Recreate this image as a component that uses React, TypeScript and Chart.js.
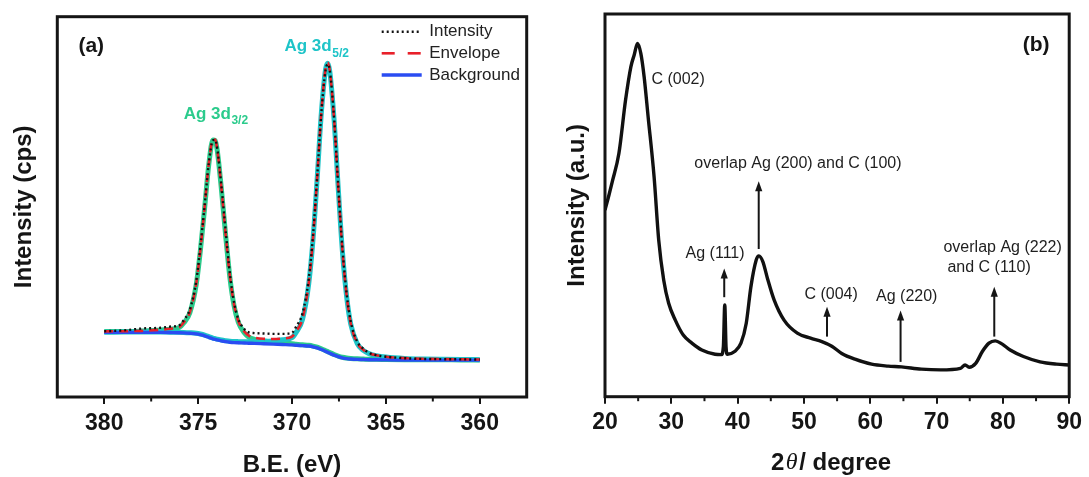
import React, { useEffect, useRef } from 'react';
import { Chart, registerables } from 'chart.js';

Chart.register(...registerables);

const FONT = '"Liberation Sans", Arial, Helvetica, sans-serif';
const SERIF = '"Liberation Serif", "Times New Roman", serif';
const INK = '#151515';
const RED = '#e8202a';
const BLUE = '#2a4cf2';
const GREEN = '#2bcb8c';
const CYAN = '#1ec4c8';

// ---------------- (a) XPS Ag 3d ----------------
const xpsBE = [380, 379, 378, 377, 376.5, 376, 375.77, 375.44, 375.10, 374.88,
  374.65, 374.43, 374.21, 374.09, 373.98, 373.76, 373.53, 373.31, 373.09, 372.86,
  372.53, 372.3, 372.0, 371.5, 371.0, 370.5, 370.0, 369.78, 369.44, 369.11,
  368.88, 368.66, 368.44, 368.21, 368.1, 367.99, 367.76, 367.54, 367.32, 367.09,
  366.87, 366.53, 366.2, 365.9, 365.5, 365.0, 364, 363, 362, 361,
  360];
const xpsIntensity = [17.3, 17.5, 18.0, 18.2, 18.5, 18.9, 20.2, 23.0, 30.5, 39.5,
  50.5, 61.5, 67.5, 67.6, 65.3, 55.5, 43.5, 32.5, 25.0, 20.5,
  17.8, 17.0, 16.8, 16.7, 16.6, 16.6, 16.9, 18.5, 22.0, 31.0,
  42.5, 57.8, 74.5, 86.0, 87.5, 86.0, 73.5, 55.8, 39.5, 27.2,
  19.8, 14.6, 12.7, 11.6, 11.0, 10.6, 10.2, 10.0, 9.95, 9.9,
  9.85];
const xpsEnvelope = [17.25, 17.3, 17.4, 17.7, 17.95, 18.4, 19.6, 22.3, 29.8, 38.7,
  50.1, 61.4, 67.8, 67.65, 65.0, 54.9, 42.5, 31.8, 24.4, 20.0,
  17.15, 16.15, 15.6, 15.3, 15.25, 15.4, 15.9, 17.25, 20.6, 29.9,
  41.7, 57.6, 74.7, 86.4, 87.9, 85.9, 73.2, 55.3, 38.8, 26.6,
  19.25, 14.2, 12.4, 11.5, 10.97, 10.6, 10.23, 10.06, 9.97, 9.91,
  9.87];
const xpsBackground = [17.0, 17.0, 17.0, 17.0, 16.95, 16.9, 16.85, 16.75, 16.6, 16.4,
  16.1, 15.7, 15.3, 15.15, 15.0, 14.75, 14.55, 14.4, 14.3, 14.25,
  14.2, 14.15, 14.1, 14.0, 13.9, 13.8, 13.7, 13.6, 13.5, 13.4,
  13.2, 12.9, 12.5, 12.0, 11.75, 11.5, 11.0, 10.6, 10.3, 10.1,
  10.0, 9.9, 9.85, 9.8, 9.8, 9.75, 9.7, 9.7, 9.7, 9.7,
  9.7];
const xpsAg3d32 = [17.2, 17.2, 17.35, 17.6, 17.85, 18.3, 19.45, 22.15, 29.6, 38.5,
  49.9, 61.2, 67.6, 67.45, 64.8, 54.65, 42.25, 31.5, 24.1, 19.65,
  16.8, 15.75, 15.15, 14.7, 14.4, 14.18, 14.0, 13.85, 13.72, 13.6,
  13.39, 13.09, 12.68, 12.18, 11.93, 11.68, 11.17, 10.77, 10.46, 10.26,
  10.15, 10.04, 9.98, 9.92, 9.91, 9.85, 9.79, 9.78, 9.77, 9.76,
  9.75];
const xpsAg3d52 = [17.05, 17.06, 17.07, 17.09, 17.05, 17.02, 16.98, 16.89, 16.76, 16.57,
  16.28, 15.89, 15.5, 15.35, 15.21, 14.97, 14.8, 14.67, 14.59, 14.56,
  14.55, 14.55, 14.59, 14.63, 14.76, 15.04, 15.6, 17.0, 20.4, 29.7,
  41.5, 57.4, 74.5, 86.2, 87.75, 85.7, 73.0, 55.1, 38.6, 26.4,
  19.1, 14.1, 12.25, 11.4, 10.86, 10.51, 10.14, 9.98, 9.9, 9.85,
  9.82];
const xpsTicks = [380, 375, 370, 365, 360];
const xpsMinorTicks = [377.5, 372.5, 367.5, 362.5];
const xpsLegendLabels = ['Intensity', 'Envelope', 'Background'];
const xpsPeakNames = ['Ag 3d', 'Ag 3d'];
const xpsPeakSubs = ['3/2', '5/2'];
const xpsPeakLabelBE = [375.77, 370.4];
const xpsPeakLabelY = [74.3, 92.1];
const xpsPanel = '(a)';
const xpsPanelBE = 380.69;
const xpsPanelY = 92.3;

// ---------------- (b) XRD ----------------
const xrdTwoTheta = [20.0, 20.6, 21.1, 22.1, 23.1, 23.9, 24.4, 24.9, 25.4, 25.9,
  26.5, 27.4, 28.1, 28.85, 29.6, 30.6, 31.8, 33.1, 34.6, 36.6,
  37.55, 37.85, 38.06, 38.25, 38.45, 39.55, 40.5, 41.3, 42.0, 42.8,
  43.2, 43.8, 44.5, 45.5, 47.0, 49.0, 51.0, 52.7, 54.2, 55.7,
  57.7, 60.2, 62.7, 64.7, 67.7, 70.6, 73.6, 74.3, 74.9, 75.9,
  76.9, 77.9, 78.85, 79.85, 81.1, 83.1, 85.6, 88.1, 90.0];
const xrdIntensity = [48.8, 52.7, 56.2, 63.6, 77.5, 86.2, 89.3, 92.3, 89.7, 83.6,
  73.2, 57.5, 40.9, 30.5, 24.4, 20.0, 16.1, 14.0, 12.2, 11.1,
  11.0, 13.1, 24.0, 13.1, 11.1, 11.8, 14.0, 19.2, 28.7, 35.7,
  36.8, 35.3, 30.9, 25.3, 20.0, 16.6, 15.3, 14.4, 13.2, 11.3,
  9.8, 8.5, 8.0, 7.8, 7.2, 7.0, 7.4, 8.3, 7.7, 8.7,
  11.8, 14.0, 14.6, 13.8, 12.2, 10.5, 9.1, 8.5, 8.3];
const xrdTicks = [20, 30, 40, 50, 60, 70, 80, 90];
const xrdMinorTicks = [25, 35, 45, 55, 65, 75, 85];
const xrdLabelText = ['C (002)', 'Ag (111)', 'overlap Ag (200) and C (100)', 'C (004)', 'Ag (220)', 'overlap Ag (222)', 'and C (110)'];
const xrdLabelX = [27.0, 36.6, 49.1, 54.1, 65.5, 71.04, 71.64];
const xrdLabelY = [82.8, 37.3, 61.0, 26.8, 26.1, 39.0, 33.8];
const xrdLabelAlign = ['left', 'center', 'center', 'center', 'center', 'left', 'left'];
const xrdArrowX = [37.98, 43.18, 53.48, 64.57, 78.7];
const xrdArrowFrom = [26.0, 38.6, 15.7, 9.1, 15.7];
const xrdArrowTo = [33.5, 56.3, 23.5, 22.5, 28.7];
const xrdPanel = '(b)';
const xrdPanelX = 85.0;
const xrdPanelY = 91.9;

const pts = (xs: number[], ys: number[]) => xs.map((x, i) => ({ x, y: ys[i] }));

function framePlugin(minor: number[]) {
  return {
    id: 'frame',
    afterDraw(chart: any) {
      const { ctx, chartArea: a, scales } = chart;
      ctx.save();
      ctx.strokeStyle = INK;
      ctx.lineWidth = 2;
      for (const v of minor) {
        const px = scales.x.getPixelForValue(v);
        ctx.beginPath();
        ctx.moveTo(px, a.bottom);
        ctx.lineTo(px, a.bottom + 4.5);
        ctx.stroke();
      }
      ctx.lineWidth = 3;
      ctx.strokeRect(a.left, a.top, a.right - a.left, a.bottom - a.top);
      ctx.restore();
    },
  };
}

const xpsDecor = {
  id: 'xpsDecor',
  afterDraw(chart: any) {
    const { ctx, chartArea: a, scales } = chart;
    const x = scales.x, y = scales.y;
    ctx.save();
    ctx.textBaseline = 'middle';
    ctx.fillStyle = INK;
    ctx.font = `bold 21px ${FONT}`;
    ctx.textAlign = 'center';
    ctx.fillText(xpsPanel, x.getPixelForValue(xpsPanelBE), y.getPixelForValue(xpsPanelY));

    const colors = [GREEN, CYAN];
    ctx.textAlign = 'left';
    for (let i = 0; i < xpsPeakNames.length; i++) {
      const px = x.getPixelForValue(xpsPeakLabelBE[i]);
      const py = y.getPixelForValue(xpsPeakLabelY[i]);
      ctx.fillStyle = colors[i];
      ctx.font = `bold 17px ${FONT}`;
      ctx.fillText(xpsPeakNames[i], px, py);
      const w = ctx.measureText(xpsPeakNames[i]).width;
      ctx.font = `bold 12px ${FONT}`;
      ctx.fillText(xpsPeakSubs[i], px + w + 0.5, py + 6.5);
    }

    // legend
    const x0 = a.right - 145, x1 = a.right - 105, tx = a.right - 97.5;
    const rows = [a.top + 15, a.top + 36.6, a.top + 58.3];
    ctx.lineCap = 'butt';
    ctx.strokeStyle = '#111';
    ctx.lineWidth = 2.4;
    ctx.setLineDash([2, 3]);
    ctx.beginPath(); ctx.moveTo(x0, rows[0]); ctx.lineTo(x1, rows[0]); ctx.stroke();
    ctx.strokeStyle = RED;
    ctx.lineWidth = 2.6;
    ctx.setLineDash([13, 13]);
    ctx.beginPath(); ctx.moveTo(x0, rows[1]); ctx.lineTo(x1, rows[1]); ctx.stroke();
    ctx.setLineDash([]);
    ctx.strokeStyle = BLUE;
    ctx.lineWidth = 3.4;
    ctx.beginPath(); ctx.moveTo(x0, rows[2]); ctx.lineTo(x1, rows[2]); ctx.stroke();

    ctx.fillStyle = '#222';
    ctx.font = `17px ${FONT}`;
    for (let i = 0; i < xpsLegendLabels.length; i++) ctx.fillText(xpsLegendLabels[i], tx, rows[i]);
    ctx.restore();
  },
};

const xrdDecor = {
  id: 'xrdDecor',
  afterDraw(chart: any) {
    const { ctx, chartArea: a, scales } = chart;
    const x = scales.x, y = scales.y;
    ctx.save();
    ctx.textBaseline = 'middle';
    ctx.fillStyle = INK;
    ctx.font = `bold 21px ${FONT}`;
    ctx.textAlign = 'center';
    ctx.fillText(xrdPanel, x.getPixelForValue(xrdPanelX), y.getPixelForValue(xrdPanelY));

    ctx.fillStyle = '#1e1e1e';
    ctx.font = `16px ${FONT}`;
    for (let i = 0; i < xrdLabelText.length; i++) {
      ctx.textAlign = xrdLabelAlign[i] as CanvasTextAlign;
      ctx.fillText(xrdLabelText[i], x.getPixelForValue(xrdLabelX[i]), y.getPixelForValue(xrdLabelY[i]));
    }

    ctx.strokeStyle = INK;
    ctx.fillStyle = INK;
    ctx.lineWidth = 2;
    for (let i = 0; i < xrdArrowX.length; i++) {
      const px = x.getPixelForValue(xrdArrowX[i]);
      const y0 = y.getPixelForValue(xrdArrowFrom[i]);
      const y1 = y.getPixelForValue(xrdArrowTo[i]);
      ctx.beginPath(); ctx.moveTo(px, y0); ctx.lineTo(px, y1 + 8); ctx.stroke();
      ctx.beginPath(); ctx.moveTo(px, y1); ctx.lineTo(px - 3.6, y1 + 10); ctx.lineTo(px + 3.6, y1 + 10); ctx.closePath(); ctx.fill();
    }

    // x title: 2θ/ degree
    const parts = [
      { t: '2', f: `bold 24px ${FONT}` },
      { t: 'θ', f: `italic 24px ${SERIF}` },
      { t: '/ degree', f: `bold 24px ${FONT}` },
    ];
    let total = 0;
    const widths = parts.map((p) => { ctx.font = p.f; const w = ctx.measureText(p.t).width; total += w; return w; });
    total += 3;
    let cx = (a.left + a.right) / 2 - 6 - total / 2;
    ctx.textAlign = 'left';
    ctx.fillStyle = INK;
    parts.forEach((p, i) => {
      ctx.font = p.f;
      ctx.fillText(p.t, cx, 463);
      cx += widths[i] + (i < 2 ? 1.5 : 0);
    });
    ctx.restore();
  },
};

const tickFont = { family: FONT, size: 23, weight: 'bold' as const, lineHeight: 1 };
const titleFont = { family: FONT, size: 24, weight: 'bold' as const, lineHeight: 1 };
const xGrid = { display: true, drawOnChartArea: false, drawTicks: true, tickLength: 7, color: INK, lineWidth: 2 };

export default function App() {
  const leftRef = useRef<HTMLCanvasElement>(null);
  const rightRef = useRef<HTMLCanvasElement>(null);

  useEffect(() => {
    const line = { pointRadius: 0, fill: false, cubicInterpolationMode: 'monotone' as const };
    const c1 = new Chart(leftRef.current!, {
      type: 'line',
      data: {
        datasets: [
          { label: 'Intensity', data: pts(xpsBE, xpsIntensity), borderColor: '#111', borderWidth: 2.4, borderDash: [2, 3], order: 0, ...line },
          { label: 'Envelope', data: pts(xpsBE, xpsEnvelope), borderColor: RED, borderWidth: 2.6, borderDash: [9, 6], order: 1, ...line },
          { label: 'Background', data: pts(xpsBE, xpsBackground), borderColor: BLUE, borderWidth: 3.4, order: 2, ...line },
          { label: 'Ag 3d5/2', data: pts(xpsBE, xpsAg3d52), borderColor: CYAN, borderWidth: 5, order: 3, ...line },
          { label: 'Ag 3d3/2', data: pts(xpsBE, xpsAg3d32), borderColor: GREEN, borderWidth: 5, order: 4, ...line },
        ],
      },
      options: {
        responsive: false,
        animation: false,
        devicePixelRatio: 1,
        events: [],
        layout: { padding: { left: 0, right: 18.3, top: 16.7, bottom: 0 } },
        plugins: { legend: { display: false }, tooltip: { enabled: false } },
        scales: {
          x: {
            type: 'linear', min: 357.5, max: 382.5, reverse: true,
            afterBuildTicks: (s: any) => { s.ticks = xpsTicks.map((v) => ({ value: v })); },
            afterFit: (s: any) => { s.height = 80; },
            grid: xGrid,
            border: { display: false },
            ticks: { font: tickFont, color: INK, padding: 8, maxRotation: 0 },
            title: { display: true, text: 'B.E. (eV)', font: titleFont, color: INK, padding: { top: 0, bottom: 0 } },
          },
          y: {
            type: 'linear', min: 0, max: 100,
            afterFit: (s: any) => { s.width = 57.3; },
            grid: { display: false },
            border: { display: false },
            ticks: { display: false },
            title: { display: true, text: 'Intensity (cps)', font: titleFont, color: INK, padding: { top: 12, bottom: 0 } },
          },
        },
      },
      plugins: [framePlugin(xpsMinorTicks), xpsDecor],
    } as any);

    const c2 = new Chart(rightRef.current!, {
      type: 'line',
      data: {
        datasets: [
          { label: 'XRD', data: pts(xrdTwoTheta, xrdIntensity), borderColor: '#111', borderWidth: 3.4, ...line },
        ],
      },
      options: {
        responsive: false,
        animation: false,
        devicePixelRatio: 1,
        events: [],
        layout: { padding: { left: 0, right: 14, top: 14, bottom: 0 } },
        plugins: { legend: { display: false }, tooltip: { enabled: false } },
        scales: {
          x: {
            type: 'linear', min: 20, max: 90,
            afterBuildTicks: (s: any) => { s.ticks = xrdTicks.map((v) => ({ value: v })); },
            afterFit: (s: any) => { s.height = 80.3; },
            grid: xGrid,
            border: { display: false },
            ticks: { font: tickFont, color: INK, padding: 7, maxRotation: 0 },
            title: { display: false },
          },
          y: {
            type: 'linear', min: 0, max: 100,
            afterFit: (s: any) => { s.width = 60; },
            grid: { display: false },
            border: { display: false },
            ticks: { display: false },
            title: { display: true, text: 'Intensity (a.u.)', font: titleFont, color: INK, padding: { top: 20.5, bottom: 0 } },
          },
        },
      },
      plugins: [framePlugin(xrdMinorTicks), xrdDecor],
    } as any);

    return () => { c1.destroy(); c2.destroy(); };
  }, []);

  return (
    <div style={{ position: 'fixed', left: 0, top: 0, width: 1089, height: 477, background: '#fff' }}>
      <canvas ref={leftRef} width={545} height={477} style={{ position: 'absolute', left: 0, top: 0, width: 545, height: 477 }} />
      <canvas ref={rightRef} width={544} height={477} style={{ position: 'absolute', left: 545, top: 0, width: 544, height: 477 }} />
    </div>
  );
}
